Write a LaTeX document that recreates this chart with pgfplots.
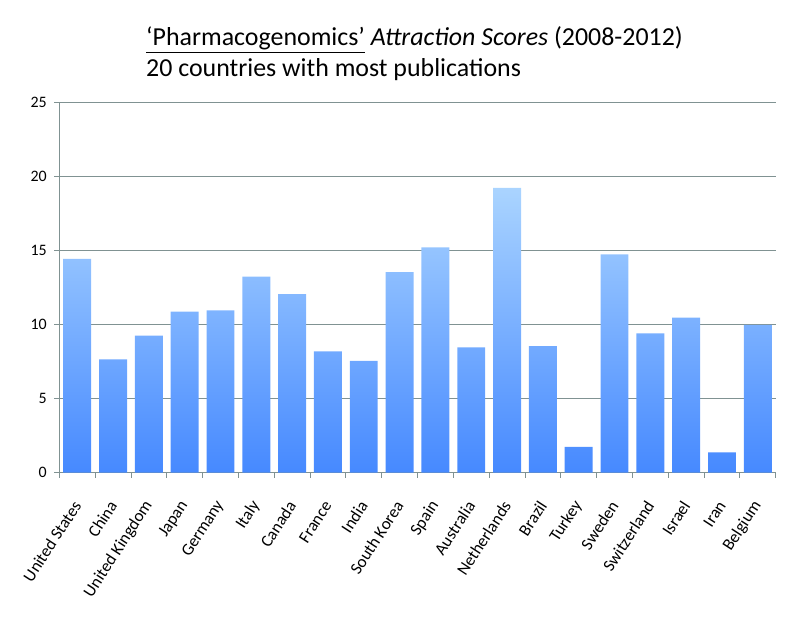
\documentclass[border=0pt]{standalone}
\usepackage{fontspec}
\setmainfont{Carlito}
\usepackage{pgfplots}
\pgfplotsset{compat=1.18}

\definecolor{barTop}{HTML}{AAD4FF}
\definecolor{barBot}{HTML}{4689FF}
\definecolor{gridc}{RGB}{128,146,146}

\begin{document}
\begin{tikzpicture}
\begin{axis}[
    at={(59.3bp,170.3bp)}, anchor=south west,
    scale only axis, width=716.4bp, height=370bp,
    xmin=-0.5, xmax=19.5, ymin=0, ymax=25,
    axis x line*=bottom, axis y line*=left,
    axis line style={gridc, line width=0.8bp},
    ytick={0,5,10,15,20,25},
    ymajorgrids, grid style={gridc, line width=0.8bp},
    tick align=outside,
    major tick length=5bp, minor tick length=5bp,
    tick style={gridc, line width=0.8bp},
    xtick={0.05,1.05,2.05,3.05,4.05,5.05,6.05,7.05,8.05,9.05,10.05,11.05,12.05,13.05,14.05,15.05,16.05,17.05,18.05,19.05},
    major x tick style={draw=none},
    minor xtick={-0.5,0.5,1.5,2.5,3.5,4.5,5.5,6.5,7.5,8.5,9.5,10.5,11.5,12.5,13.5,14.5,15.5,16.5,17.5,18.5,19.5},
    xticklabels={United States,China,United Kingdom,Japan,Germany,Italy,Canada,France,India,South Korea,Spain,Australia,Netherlands,Brazil,Turkey,Sweden,Switzerland,Israel,Iran,Belgium},
    xticklabel style={yshift=-22bp, rotate=57, anchor=east, font=\fontsize{17}{20}\selectfont},
    yticklabel style={xshift=-4bp, font=\fontsize{16}{18}\selectfont},
    /pgf/number format/assume math mode=true,
    clip=false,
]
\addplot[ybar, bar width=0.78, draw=none, top color=barTop, bottom color=barBot]
    coordinates {
    (0,14.44) (1,7.66) (2,9.26) (3,10.88) (4,10.97)
    (5,13.24) (6,12.07) (7,8.20) (8,7.55) (9,13.56)
    (10,15.23) (11,8.47) (12,19.24) (13,8.56) (14,1.74)
    (15,14.75) (16,9.42) (17,10.47) (18,1.38) (19,9.98)
    };
\end{axis}
\node[anchor=base west, inner sep=0pt, font=\fontsize{26}{30}\selectfont] at (146bp,597bp)
    {\underline{‘Pharmacogenomics’} \textit{Attraction Scores} (2008-2012)};
\node[anchor=base west, inner sep=0pt, font=\fontsize{26}{30}\selectfont] at (146bp,566bp)
    {20 countries with most publications};
\pgfresetboundingbox
\path[use as bounding box] (0,0) rectangle (796bp,643bp);
\end{tikzpicture}
\end{document}
